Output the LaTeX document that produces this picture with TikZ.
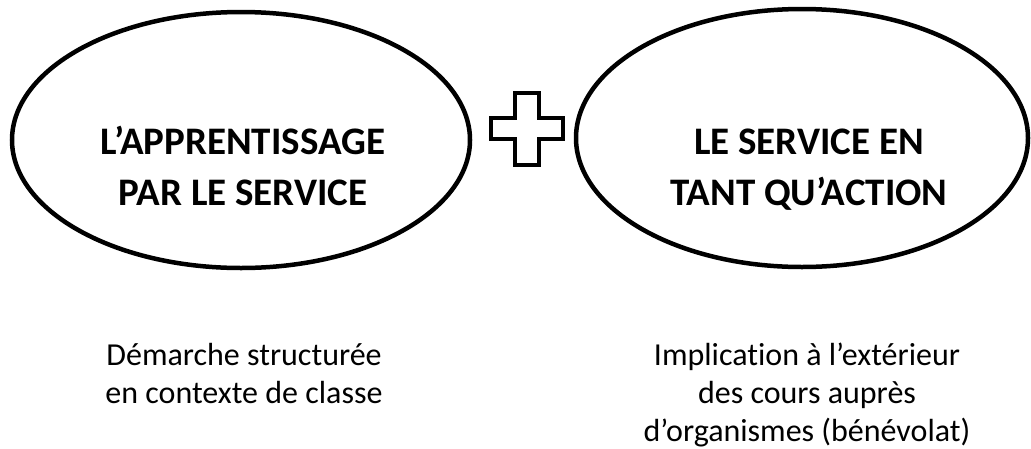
\documentclass[tikz,border=0pt]{standalone}
\usepackage{fontspec}
\setmainfont{Carlito}[Ligatures={NoCommon}]
\usetikzlibrary{shapes.geometric}
\tikzset{
  bubble/.style={draw=black, line width=4.5pt, ellipse, inner sep=0pt, outer sep=0pt},
  title/.style={align=center, inner sep=0pt, anchor=base, font=\bfseries\fontsize{39}{45}\selectfont},
  caption/.style={align=center, inner sep=0pt, anchor=base, font=\fontsize{32}{38}\selectfont},
  plus/.style={draw=black, line width=4pt, line join=miter}
}
\begin{document}
\begin{tikzpicture}[x=1pt,y=-1pt]
\useasboundingbox (0,0) rectangle (1031,448);
\node[bubble, minimum width=458pt, minimum height=256pt] (left) at (241,140) {};
\node[bubble, minimum width=452pt, minimum height=258pt] (right) at (802,138) {};
\node[title] (lefttitle) at (243,205) {L’APPRENTISSAGE\\[6pt]PAR LE SERVICE};
\node[title] (righttitle) at (809,205) {LE SERVICE EN\\[6pt]TANT QU’ACTION};
\draw[plus] (515,93) -- (539,93) -- (539,118) -- (563,118) -- (563,139) -- (539,139)
  -- (539,165) -- (515,165) -- (515,139) -- (491,139) -- (491,118) -- (515,118) -- cycle;
\node[caption] (lefttext) at (244,403) {Démarche structurée\\en contexte de classe};
\node[caption] (righttext) at (807,441) {Implication à l’extérieur\\des cours auprès\\d’organismes (bénévolat)};
\end{tikzpicture}
\end{document}
